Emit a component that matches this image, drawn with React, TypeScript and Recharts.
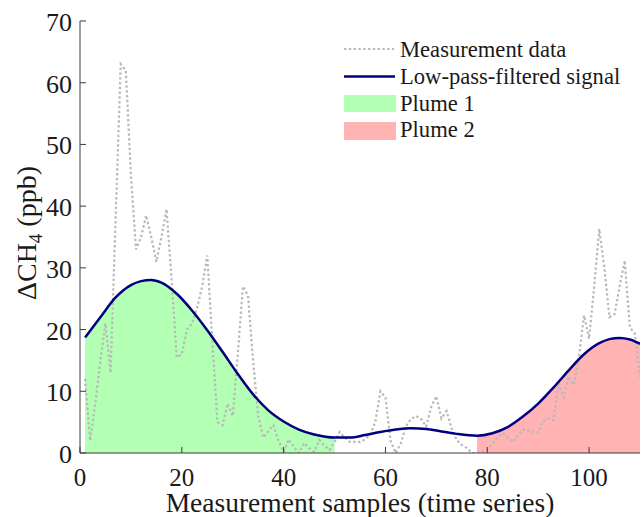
import React from 'react';
import { ComposedChart, Line, Area, XAxis, YAxis, Legend } from 'recharts';

// Measurement samples 1..110 (ΔCH4, ppb)
const sampleValues: number[] = [
  12, 2, 8, 15, 21, 13, 38, 63, 62, 45,
  33, 35, 38.5, 35, 31, 35, 39.5, 28, 15.5, 16,
  20, 21, 23.5, 27, 32, 18, 5, 4.5, 8, 6,
  16, 27, 25.5, 15, 6, 2.5, 3.5, 4.5, 2, 0.2,
  2.2, 1, 0, 1.6, 0.8, 0.2, 2.1, 1.2, 0.5, 1.8,
  3.4, 2.5, 1.8, 1.8, 1.8, 2.2, 3, 5, 10, 9,
  2, 0, 1.5, 4.3, 5.5, 6, 5.5, 4.3, 7.5, 9.2,
  5.6, 6.8, 4, 2.1, 1.3, 0.8, 0, 0, 0.2, 0.5,
  1.5, 2.5, 3.2, 2.5, 1.8, 2.8, 3.8, 3.7, 3.4, 3.3,
  5.2, 5.6, 5.3, 11.3, 9, 12.4, 11, 15.5, 22.3, 18.5,
  27, 36.3, 30, 22, 22.5, 27, 31.2, 20.4, 19.3, 12.3,
];

// Low-pass-filtered signal, read at selected samples
const filteredX: number[] = [1, 4, 7, 10, 12, 14, 16, 19, 22, 25, 28, 31, 34, 37, 40, 43, 46, 50, 53, 56, 59, 62, 65, 68, 71, 74, 78, 81, 84, 87, 90, 93, 96, 99, 102, 104, 106, 108, 110];
const filteredY: number[] = [18.7, 22.0, 25.2, 27.2, 27.85, 28.05, 27.6, 25.8, 23.1, 19.9, 16.4, 12.8, 9.5, 6.9, 5.1, 3.8, 3.0, 2.5, 2.5, 2.9, 3.4, 3.8, 4.0, 3.9, 3.5, 3.1, 2.8, 3.2, 4.2, 5.9, 8.0, 10.6, 13.4, 16.0, 17.8, 18.45, 18.65, 18.4, 17.7];

const plume1Range = [1, 50];
const plume2Range = [78, 110];

const xTicks = [0, 20, 40, 60, 80, 100];
const yTicks = [0, 10, 20, 30, 40, 50, 60, 70];

const legendLabels = ['Measurement data', 'Low-pass-filtered signal', 'Plume 1', 'Plume 2'];

const measurementData = sampleValues.map((v, i) => ({ x: i + 1, y: v }));
const filteredData = filteredX.map((x, i) => ({ x, y: filteredY[i] }));
const plume1Data = filteredData.filter((d) => d.x >= plume1Range[0] && d.x <= plume1Range[1]);
const plume2Data = filteredData.filter((d) => d.x >= plume2Range[0] && d.x <= plume2Range[1]);

const FONT = '"Liberation Serif", "Times New Roman", serif';
const TEXT = '#1a1a1a';
const AXIS = '#3a3a3a';
const GRAY = '#b9b9b9';
const NAVY = '#000080';
const GREEN = '#b3ffb3';
const PINK = '#ffb3b3';

const XTick = (props: any) => {
  const { x, y, payload } = props;
  return (
    <g>
      <line x1={x} x2={x} y1={y} y2={y - 6} stroke={AXIS} strokeWidth={1} />
      <text x={x} y={y + 33} textAnchor="middle" fontFamily={FONT} fontSize={25} fill={TEXT}>
        {payload.value}
      </text>
    </g>
  );
};

const YTick = (props: any) => {
  const { x, y, payload } = props;
  return (
    <g>
      <line x1={x} x2={x + 6} y1={y} y2={y} stroke={AXIS} strokeWidth={1} />
      <text x={x - 8} y={y + 10} textAnchor="end" fontFamily={FONT} fontSize={26} fill={TEXT}>
        {payload.value}
      </text>
    </g>
  );
};

const XLabel = (props: any) => {
  const vb = props.viewBox || { x: 80, y: 453, width: 560, height: 64 };
  return (
    <text x={vb.x + vb.width / 2} y={vb.y + 59} textAnchor="middle" fontFamily={FONT} fontSize={27.5} fill={TEXT}>
      Measurement samples (time series)
    </text>
  );
};

const YLabel = (props: any) => {
  const vb = props.viewBox || { x: 0, y: 21, width: 80, height: 432 };
  const cx = 36;
  const cy = vb.y + vb.height / 2 - 4;
  return (
    <text x={cx} y={cy} textAnchor="middle" fontFamily={FONT} fontSize={28} fill={TEXT} transform={`rotate(-90, ${cx}, ${cy})`}>
      <tspan>ΔCH</tspan>
      <tspan fontSize={19} dy={6}>4</tspan>
      <tspan dy={-6}> (ppb)</tspan>
    </text>
  );
};

const renderLegend = () => {
  const rows = [19, 46.5, 73.5, 101];
  const base = [26.7, 53.5, 80.5, 107];
  return (
    <svg width={300} height={120} style={{ display: 'block' }}>
      <line x1={4} x2={54} y1={rows[0]} y2={rows[0]} stroke={GRAY} strokeWidth={2.2} strokeDasharray="2.4 2.4" />
      <line x1={4} x2={55} y1={rows[1]} y2={rows[1]} stroke={NAVY} strokeWidth={2.5} />
      <rect x={4} y={rows[2] - 8.5} width={52} height={17} fill={GREEN} />
      <rect x={4} y={rows[3] - 9} width={52} height={18} fill={PINK} />
      {legendLabels.map((t, i) => (
        <text key={t} x={60} y={base[i]} fontFamily={FONT} fontSize={22.6} fill={TEXT}>
          {t}
        </text>
      ))}
    </svg>
  );
};

export default function App() {
  return (
    <div style={{ position: 'absolute', left: 0, top: 0, width: 641, height: 517, background: '#fff' }}>
      <ComposedChart width={641} height={517} margin={{ top: 21, right: 1, left: 0, bottom: 0 }}>
        <XAxis
          type="number"
          dataKey="x"
          domain={[0, 110]}
          ticks={xTicks}
          height={64}
          tickSize={0}
          tickMargin={0}
          tickLine={false}
          tick={<XTick />}
          axisLine={{ stroke: AXIS, strokeWidth: 1 }}
          label={<XLabel />}
          allowDataOverflow
        />
        <YAxis
          type="number"
          domain={[0, 70]}
          ticks={yTicks}
          width={80}
          tickSize={0}
          tickMargin={0}
          tickLine={false}
          tick={<YTick />}
          axisLine={{ stroke: AXIS, strokeWidth: 1 }}
          label={<YLabel />}
          allowDataOverflow
        />
        <Legend
          layout="horizontal"
          verticalAlign="middle"
          content={renderLegend}
          wrapperStyle={{ left: 340, top: 30, width: 300, height: 120 }}
        />
        <Area data={plume1Data} dataKey="y" type="monotone" fill={GREEN} fillOpacity={1} stroke="none" baseValue={0} isAnimationActive={false} />
        <Area data={plume2Data} dataKey="y" type="monotone" fill={PINK} fillOpacity={1} stroke="none" baseValue={0} isAnimationActive={false} />
        <Line data={measurementData} dataKey="y" type="linear" stroke={GRAY} strokeWidth={2.2} strokeDasharray="2.4 2.4" dot={false} activeDot={false} isAnimationActive={false} />
        <Line data={filteredData} dataKey="y" type="monotone" stroke={NAVY} strokeWidth={2.5} dot={false} activeDot={false} isAnimationActive={false} />
      </ComposedChart>
    </div>
  );
}
